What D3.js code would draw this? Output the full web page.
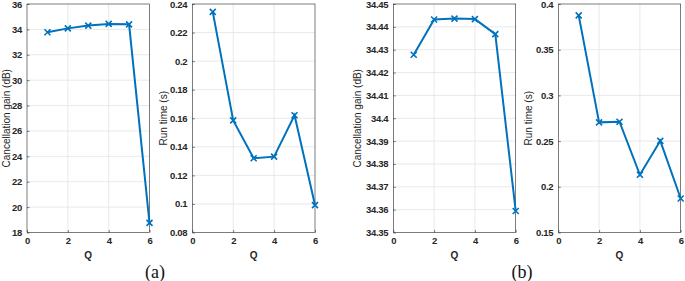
<!DOCTYPE html>
<html>
<head>
<meta charset="utf-8">
<script src="https://cdn.jsdelivr.net/npm/d3@7"></script>
<style>
  body { margin: 0; background: #fff; }
  text { font-family: "Liberation Sans", Arial, sans-serif; }
</style>
</head>
<body>
<div id="chart"></div>
<script>
// Q values (shared x axis)
const qValues = [1, 2, 3, 4, 5, 6];
const xTicks = [0, 2, 4, 6];

// (a) series
const gainA = [33.77, 34.08, 34.30, 34.43, 34.40, 18.76];
const timeA = [0.2345, 0.1585, 0.132, 0.1331, 0.1621, 0.0992];
// (b) series
const gainB = [34.4278, 34.4432, 34.4436, 34.4434, 34.4368, 34.3594];
const timeB = [0.3875, 0.2705, 0.2712, 0.2132, 0.2503, 0.1872];

// y tick values
const ticksGainA = [18, 20, 22, 24, 26, 28, 30, 32, 34, 36];
const ticksTimeA = [0.08, 0.1, 0.12, 0.14, 0.16, 0.18, 0.2, 0.22, 0.24];
const ticksGainB = [34.35, 34.36, 34.37, 34.38, 34.39, 34.4, 34.41, 34.42, 34.43, 34.44, 34.45];
const ticksTimeB = [0.15, 0.2, 0.25, 0.3, 0.35, 0.4];

const W = 685, H = 281;
const plotTop = 4, plotBottom = 232.5;
const ink = "#262626";
const blue = "#0072BD";

const svg = d3.select("#chart").append("svg")
    .attr("width", W)
    .attr("height", H);

const panels = [
    { left: 27, right: 149.5, data: gainA, ticks: ticksGainA, domain: [18, 36], label: "Cancellation gain (dB)", labelX: 6 },
    { left: 192.3, right: 315, data: timeA, ticks: ticksTimeA, domain: [0.08, 0.24], label: "Run time (s)", labelX: 163 },
    { left: 393.3, right: 515.7, data: gainB, ticks: ticksGainB, domain: [34.35, 34.45], label: "Cancellation gain (dB)", labelX: 357 },
    { left: 558.3, right: 680.7, data: timeB, ticks: ticksTimeB, domain: [0.15, 0.4], label: "Run time (s)", labelX: 528 }
];

const fmt = d => String(+d.toFixed(4));

panels.forEach(p => {
    const x = d3.scaleLinear().domain([0, 6]).range([p.left, p.right]);
    const y = d3.scaleLinear().domain(p.domain).range([plotBottom, plotTop]);
    const g = svg.append("g");

    // grid
    g.selectAll(".gx").data(xTicks.slice(1, -1)).enter().append("line")
        .attr("x1", d => x(d)).attr("x2", d => x(d))
        .attr("y1", plotTop).attr("y2", plotBottom)
        .attr("stroke", "#e3e3e3").attr("stroke-width", 0.8);
    g.selectAll(".gy").data(p.ticks.slice(1, -1)).enter().append("line")
        .attr("x1", p.left).attr("x2", p.right)
        .attr("y1", d => y(d)).attr("y2", d => y(d))
        .attr("stroke", "#e3e3e3").attr("stroke-width", 0.8);

    // axes
    const yAxis = g.append("g")
        .attr("transform", `translate(${p.left},0)`)
        .call(d3.axisLeft(y).tickValues(p.ticks).tickFormat(fmt).tickSizeInner(-2.5).tickSizeOuter(0).tickPadding(5));
    const xAxis = g.append("g")
        .attr("transform", `translate(0,${plotBottom})`)
        .call(d3.axisBottom(x).tickValues(xTicks).tickFormat(fmt).tickSizeInner(-2.5).tickSizeOuter(0).tickPadding(5));
    [yAxis, xAxis].forEach(a => {
        a.select(".domain").remove();
        a.selectAll("line").attr("stroke", ink).attr("stroke-width", 0.6);
        a.selectAll("text").attr("fill", ink).style("font-size", "9.5px")
            .style("font-weight", "bold").style("letter-spacing", "-0.3px");
    });

    // box
    g.append("rect")
        .attr("x", p.left).attr("y", plotTop)
        .attr("width", p.right - p.left).attr("height", plotBottom - plotTop)
        .attr("fill", "none").attr("stroke", ink).attr("stroke-width", 0.6);

    // labels
    g.append("text")
        .attr("transform", `translate(${p.labelX + 4},${(plotTop + plotBottom) / 2}) rotate(-90)`)
        .attr("text-anchor", "middle")
        .attr("fill", ink)
        .style("font-size", "10px")
        .text(p.label);
    g.append("text")
        .attr("x", (p.left + p.right) / 2)
        .attr("y", 259)
        .attr("text-anchor", "middle")
        .attr("fill", ink)
        .style("font-size", "10px")
        .style("font-weight", "bold")
        .text("Q");

    // line
    const line = d3.line().x((d, i) => x(qValues[i])).y(d => y(d));
    g.append("path")
        .datum(p.data)
        .attr("d", line)
        .attr("fill", "none")
        .attr("stroke", blue)
        .attr("stroke-width", 2);

    // x markers
    const s = 3;
    g.selectAll(".mk").data(p.data).enter().append("path")
        .attr("d", (d, i) => {
            const cx = x(qValues[i]), cy = y(d);
            return `M${cx - s},${cy - s}L${cx + s},${cy + s}M${cx - s},${cy + s}L${cx + s},${cy - s}`;
        })
        .attr("stroke", blue)
        .attr("stroke-width", 1.6)
        .attr("fill", "none");
});

// sub-figure captions
const captions = [{ t: "(a)", x: 155 }, { t: "(b)", x: 522 }];
svg.selectAll(".cap").data(captions).enter().append("text")
    .attr("x", d => d.x)
    .attr("y", 278)
    .attr("text-anchor", "middle")
    .style("font-family", "'Liberation Serif', 'DejaVu Serif', serif")
    .style("font-size", "18px")
    .attr("fill", "#111")
    .text(d => d.t);
</script>
</body>
</html>
